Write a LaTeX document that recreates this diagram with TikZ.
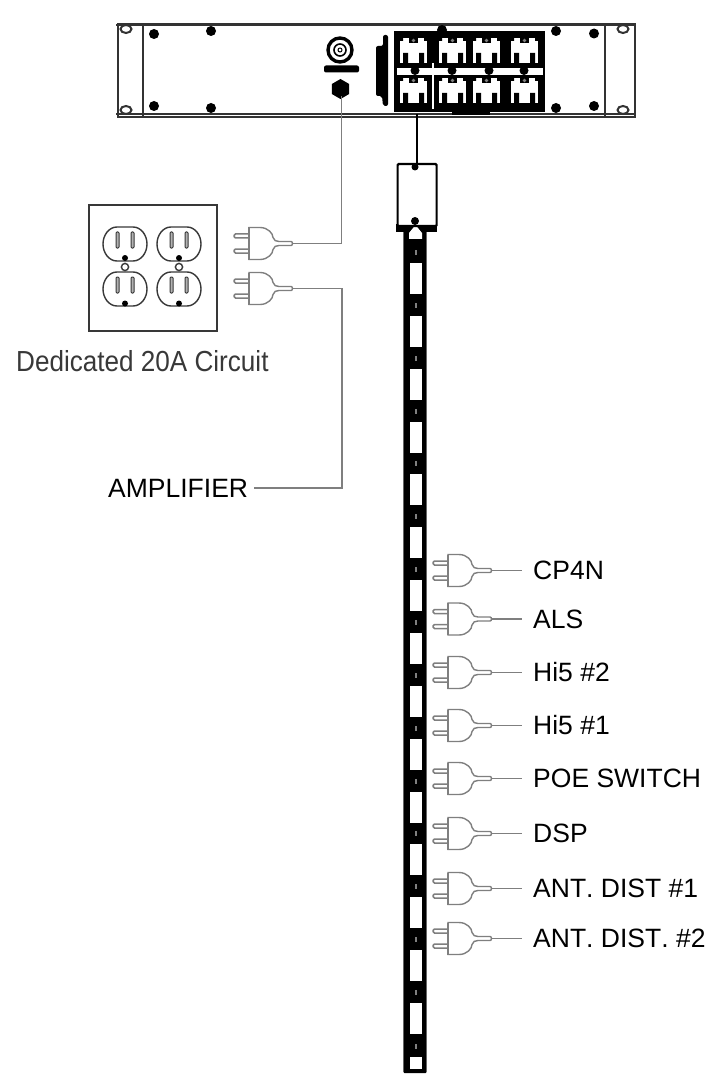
\documentclass[tikz,border=0pt]{standalone}
\usepackage{fontspec}
\setmainfont[Kerning=Off]{Liberation Sans}
\usetikzlibrary{shapes.geometric}
\definecolor{wireg}{HTML}{7F7F7F}
\definecolor{plateg}{HTML}{383838}
\tikzset{
  plug/.pic={
    \coordinate (-tail) at (44,0);
    \coordinate (-free) at (74,0);
    \draw[wireg,line width=1.5pt,fill=white,rounded corners=1.5pt] (-15,-9.5) rectangle (1,-5.5);
    \draw[wireg,line width=1.5pt,fill=white,rounded corners=1.5pt] (-15,5.5) rectangle (1,9.5);
    \draw[wireg,line width=1.4pt,fill=white] (0,-16) -- (11,-16) .. controls (19,-16) and (24,-10) .. (24,-6)
      .. controls (25,-3) and (27,-2) .. (30,-2) -- (42,-2) .. controls (44,-2) and (44,2) .. (42,2) -- (30,2)
      .. controls (27,2) and (25,3) .. (24,6) .. controls (24,10) and (19,16) .. (11,16) -- (0,16) -- cycle;
    \draw[wireg,line width=2.6pt] (0,-16) -- (0,16);
  },
  wire/.style={wireg,line width=1.5pt},
  devlabel/.style={anchor=west,inner sep=0pt,font=\fontsize{26.5}{30}\selectfont,text height=19pt,text depth=0pt,text=black},
  screw/.style={circle,fill=black,inner sep=0pt,minimum size=10pt},
  rackline/.style={draw=black!80,line width=2pt},
  earhole/.style={ellipse,draw=black!80,fill=white,line width=2pt,inner sep=0pt,minimum width=11pt,minimum height=8pt},
  wallout/.style={draw=plateg,line width=1.4pt,fill=white},
  slot/.style={draw=plateg,fill=gray!60,line width=1pt,rounded corners=1pt},
  recept/.pic={
    \fill[white] (0,0) rectangle (27,25);
    \fill[black] (3,15) rectangle (8,25) (19,15) rectangle (24,25);
    \fill[black] (9,0) rectangle (18,5);
    \fill[gray] (13.5,2.5) circle (1.8pt);
    \fill[black] (0,0) rectangle (3,3) (24,0) rectangle (27,3);
  },
  wallrec/.pic={
    \draw[wallout] (-8,-17) -- (8,-17) .. controls (16,-17) and (22,-9) .. (22,0) .. controls (22,9) and (16,17) .. (8,17) -- (-8,17) .. controls (-16,17) and (-22,9) .. (-22,0) .. controls (-22,-9) and (-16,-17) .. (-8,-17) -- cycle;
    \draw[slot] (-9,-12) rectangle (-6,4);
    \draw[slot] (6,-12) rectangle (9,4);
  },
}
\begin{document}
\begin{tikzpicture}[x=1pt,y=-1pt]
\useasboundingbox (0,0) rectangle (726,1083);
% ---- rack panel
\node[draw=black!80,line width=2pt,fill=white,minimum width=517pt,minimum height=93pt,inner sep=0pt,anchor=north west] (panel) at (116.5,23.5) {};
\draw[rackline] (116,25.5) -- (634,25.5);
\draw[rackline] (116,114.5) -- (634,114.5);
\draw[rackline] (143,24) -- (143,116);
\draw[rackline] (605,24) -- (605,116);
\foreach \n/\x/\y in {a/154/34,b/211/31,c/154/106,d/211/108,e/556/31,f/594/33.5,g/556/108,h/594/106}
  \node[screw] (s\n) at (\x,\y) {};
\foreach \n/\x/\y in {a/126/29,b/126/110,c/623/29,d/623/110}
  \node[earhole] (e\n) at (\x,\y) {};
% speakon + hexagon
\node[circle,draw=black,fill=white,line width=3.4pt,inner sep=0pt,minimum size=24pt] (spk) at (340,50) {};
\node[circle,draw=black,fill=white,line width=1.6pt,inner sep=0pt,minimum size=12pt] (spki) at (340,50) {};
\node[circle,draw=black,fill=white,line width=1pt,inner sep=0pt,minimum size=4pt] (spkc) at (340,50) {};
\fill[black,rounded corners=2pt] (324,65.5) rectangle (359,72.5);
\node[regular polygon,regular polygon sides=6,fill=black,inner sep=0pt,minimum size=20pt,rotate=30] (hex) at (340.5,89) {};
% comb bar
\fill[black,rounded corners=2pt] (383,35) -- (388,35) -- (388,106) -- (383,106) -- (382,96) -- (376,96) -- (376,46) -- (383,46) -- cycle;
% outlets block
\fill[black] (394,31) rectangle (545,112);
\foreach \x in {400,439,473,511}{
  \pic at (\x,38) {recept};
  \pic at (\x,78) {recept};
}
\fill[white] (397,68.5) rectangle (543,75);
\fill[white] (431.5,63) rectangle (434,109);
\foreach \x in {415,452,489,524} \fill[black] (\x,70.5) circle (4.5pt);
\fill[black] (442,30) circle (5pt);
\fill[black] (452,108) rectangle (490,115);
% ---- strip
\fill[black,rounded corners=1pt] (403.5,225) rectangle (426.5,1073);
\draw[black!60,line width=.8pt] (403.5,230) -- (403.5,1072) (426.5,230) -- (426.5,1072);
\foreach \k in {0,...,14}{
  \fill[white] (409.5,263+52.86*\k) rectangle (422,294+52.86*\k);
  \fill[gray] (414.5,250+52.86*\k) rectangle (417,255+52.86*\k);
}
\fill[gray] (414.5,1044) rectangle (417,1049);
\fill[white] (409.5,1057) rectangle (422,1069);
\fill[black] (396,224) rectangle (437,232);
\fill[white] (415.5,225) -- (422,233) -- (422,239) -- (409,239) -- (409,233) -- cycle;
% pdu head
\node[draw=black,fill=white,line width=2.2pt,minimum width=39pt,minimum height=62pt,inner sep=0pt,anchor=north west,rounded corners=1pt] (head) at (396.5,163) {};
\fill[black] (415,167) circle (3.5pt);
\fill[black] (415,221) circle (4pt);
\coordinate (out) at (417,114);
\draw[black,line width=2pt] (out) -- (head.north -| out);
% ---- wall plate
\node[draw=plateg,line width=1.8pt,fill=white,minimum width=128pt,minimum height=126pt,inner sep=0pt,anchor=north west] (plate) at (88,204) {};
\foreach \x in {125,179}{
  \pic at (\x,244) {wallrec};
  \pic at (\x,289) {wallrec};
  \fill[black] (\x,258) circle (3pt);
  \fill[black] (\x,303.5) circle (3pt);
  \draw[plateg,line width=1.4pt,fill=white] (\x,267) circle (3.6pt);
}
\node[anchor=west,inner sep=0pt,text=plateg,font=\fontsize{29}{32}\selectfont,xscale=.9,transform shape] (dedic) at (16,361) {Dedicated 20A Circuit};
% ---- plugs
\pic (w1) at (249,243.5) {plug};
\pic (w2) at (249,288.5) {plug};
\node[devlabel] (amp) at (108,488) {AMPLIFIER};
\coordinate (hexwire) at (341.5,96);
\draw[wire] (w1-tail) -| (hexwire);
\coordinate (ampelbow) at (342,488);
\draw[wire] (amp.east) ++(6,0) -- (ampelbow) |- (w2-tail);
\foreach \n/\y/\t in {1/570.5/CP4N,2/619/ALS,3/672.5/Hi5 \#2,4/725.5/Hi5 \#1,5/778.5/POE SWITCH,6/833.5/DSP,7/888.5/ANT. DIST \#1,8/938.5/ANT. DIST. \#2}{
  \pic (d\n) at (448,\y) {plug};
  \node[devlabel] (l\n) at (533,\y-0.5) {\t};
  \draw[wire] (d\n-tail) -- (d\n-free);
}
\end{tikzpicture}
\end{document}
